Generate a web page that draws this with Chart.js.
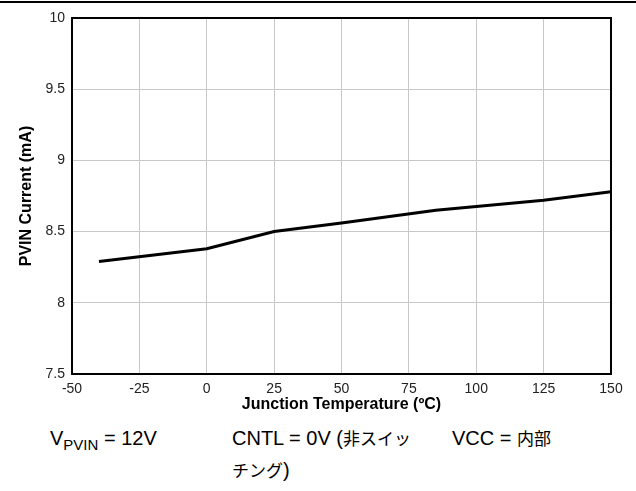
<!DOCTYPE html>
<html>
<head>
<meta charset="utf-8">
<script src="https://cdn.jsdelivr.net/npm/chart.js@4"></script>
<style>
body { margin:0; width:636px; height:491px; background:#fff; position:relative; overflow:hidden; font-family: Arial, "Liberation Sans", sans-serif; }
#topline { position:absolute; left:0; top:1px; width:636px; height:2px; background:#000; }
#wrap { position:absolute; left:0; top:0; width:636px; height:420px; }
.note { position:absolute; font-size:20px; line-height:32px; color:#000; white-space:nowrap; }
.note sub { font-size:15px; vertical-align:-5px; line-height:0; }
.jp { font-family: "Noto Sans CJK JP", sans-serif; font-size:17px; }
</style>
</head>
<body>
<div id="topline"></div>
<div id="wrap"><canvas id="chart" width="636" height="420"></canvas></div>
<div class="note" style="left:50px; top:422px;">V<sub>PVIN</sub> = 12V</div>
<div class="note" style="left:232px; top:422px;">CNTL = 0V (<span class="jp">非スイッ</span><br><span class="jp">チング</span>)</div>
<div class="note" style="left:452px; top:422px;">VCC = <span class="jp">内部</span></div>
<script>
// temperature (C) vs PVIN current (mA)
const temps = [-40, 0, 25, 50, 85, 125, 150];
const currents = [8.29, 8.38, 8.50, 8.56, 8.65, 8.72, 8.78];

const xMin = -50, xMax = 150, xStep = 25;
const yMin = 7.5, yMax = 10, yStep = 0.5;

const font = 'Arial, "Liberation Sans", sans-serif';

// black frame round the plot area
const frame = {
    id: 'frame',
    afterDraw(chart) {
        const a = chart.chartArea;
        const ctx = chart.ctx;
        ctx.save();
        ctx.strokeStyle = '#000';
        ctx.lineWidth = 2;
        ctx.strokeRect(a.left, a.top, a.right - a.left, a.bottom - a.top);
        ctx.restore();
    }
};

const ctx = document.getElementById('chart').getContext('2d');
new Chart(ctx, {
    type: 'line',
    data: {
        datasets: [{
            data: temps.map((t, i) => ({ x: t, y: currents[i] })),
            borderColor: '#000',
            borderWidth: 3,
            pointRadius: 0,
            tension: 0,
            fill: false
        }]
    },
    options: {
        responsive: false,
        animation: false,
        layout: { padding: { left: 0, top: 18, right: 25, bottom: 0 } },
        plugins: { legend: { display: false }, tooltip: { enabled: false } },
        scales: {
            x: {
                type: 'linear',
                min: xMin, max: xMax,
                ticks: { stepSize: xStep, padding: 7, color: '#222', font: { family: font, size: 14 },
                         callback: v => String(v) },
                grid: { color: '#c8c8c8', lineWidth: 1, drawTicks: false },
                border: { display: false },
                title: { display: true, text: 'Junction Temperature (ºC)', color: '#000',
                         font: { family: font, size: 16, weight: 'bold' }, padding: { top: 0, bottom: 6 } },
                afterFit(scale) { scale.height = 46; }
            },
            y: {
                min: yMin, max: yMax,
                ticks: { stepSize: yStep, padding: 7, color: '#222', font: { family: font, size: 14 },
                         callback: v => String(v) },
                grid: { color: '#c8c8c8', lineWidth: 1, drawTicks: false },
                border: { display: false },
                title: { display: true, text: 'PVIN Current (mA)', color: '#000',
                         font: { family: font, size: 16, weight: 'bold' }, padding: { top: 17, bottom: 0 } },
                afterFit(scale) { scale.width = 72; }
            }
        }
    },
    plugins: [frame]
});
</script>
</body>
</html>
